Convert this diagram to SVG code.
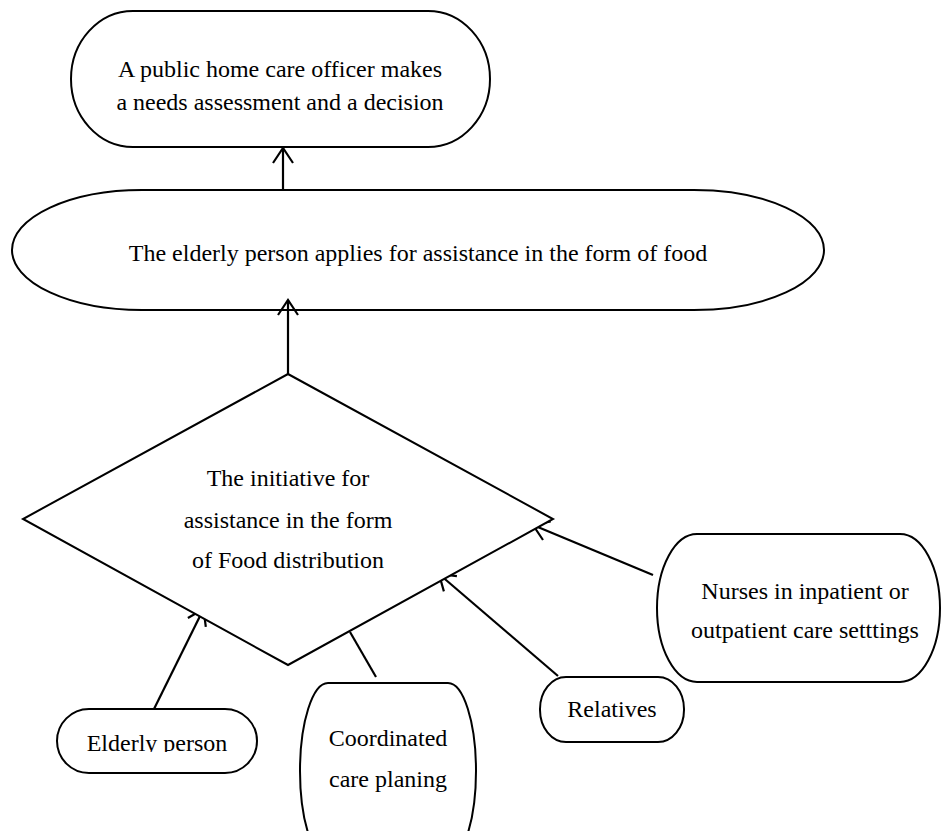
<svg xmlns="http://www.w3.org/2000/svg" width="942" height="831" viewBox="0 0 942 831">
<style>
.shape{fill:#fff;stroke:#000;stroke-width:2}
.line{fill:none;stroke:#000;stroke-width:2.2}
.arr{marker-end:url(#arrow)}
text{font-family:"Liberation Serif","Times New Roman","DejaVu Serif",serif;font-size:24px;fill:#000;text-anchor:middle}
</style>
<defs>
<marker id="arrow" markerUnits="userSpaceOnUse" markerWidth="40" markerHeight="40" viewBox="-20 -20 40 40" refX="0" refY="0" orient="auto">
<path d="M-15,-10 L0,0 L-15,10" fill="none" stroke="#000" stroke-width="2.2"/>
</marker>
<clipPath id="clipElderly"><rect x="0" y="700" width="300" height="52"/></clipPath>
</defs>
<rect width="942" height="831" fill="#fff"/>
<g id="node-officer">
<rect class="shape" x="71" y="11" width="419" height="136" rx="62" ry="68"/>
<text x="280" y="77">A public home care officer makes</text>
<text x="280" y="110">a needs assessment and a decision</text>
</g>
<g id="node-applies">
<rect class="shape" x="12" y="190" width="812" height="120" rx="130" ry="60"/>
<text x="418" y="261">The elderly person applies for assistance in the form of food</text>
</g>
<g id="connectors">
<line class="line arr" x1="283" y1="190" x2="283" y2="148"/>
<line class="line arr" x1="288" y1="374" x2="288" y2="300"/>
<line class="line arr" x1="154" y1="709" x2="203.5" y2="609"/>
<line class="line" x1="376" y1="677" x2="350" y2="632"/>
<line class="line arr" x1="558" y1="676" x2="439" y2="574"/>
<line class="line arr" x1="653" y1="575" x2="533" y2="525"/>
</g>
<g id="node-initiative">
<polygon class="shape" points="288,374 553,519 288,665 23,519"/>
<text x="288" y="486">The initiative for</text>
<text x="288" y="528">assistance in the form</text>
<text x="288" y="568">of Food distribution</text>
</g>
<g id="node-elderly">
<rect class="shape" x="57" y="709" width="200" height="64" rx="32" ry="32"/>
<text x="157" y="751" clip-path="url(#clipElderly)">Elderly person</text>
</g>
<g id="node-coordinated">
<rect class="shape" x="300" y="683" width="176" height="176" rx="28" ry="88"/>
<text x="388" y="746">Coordinated</text>
<text x="388" y="787">care planing</text>
</g>
<g id="node-relatives">
<rect class="shape" x="540" y="677" width="144" height="65" rx="26" ry="32"/>
<text x="612" y="717">Relatives</text>
</g>
<g id="node-nurses">
<rect class="shape" x="657" y="534" width="283" height="148" rx="40" ry="74"/>
<text x="805" y="599">Nurses in inpatient or</text>
<text x="805" y="638">outpatient care setttings</text>
</g>
</svg>
